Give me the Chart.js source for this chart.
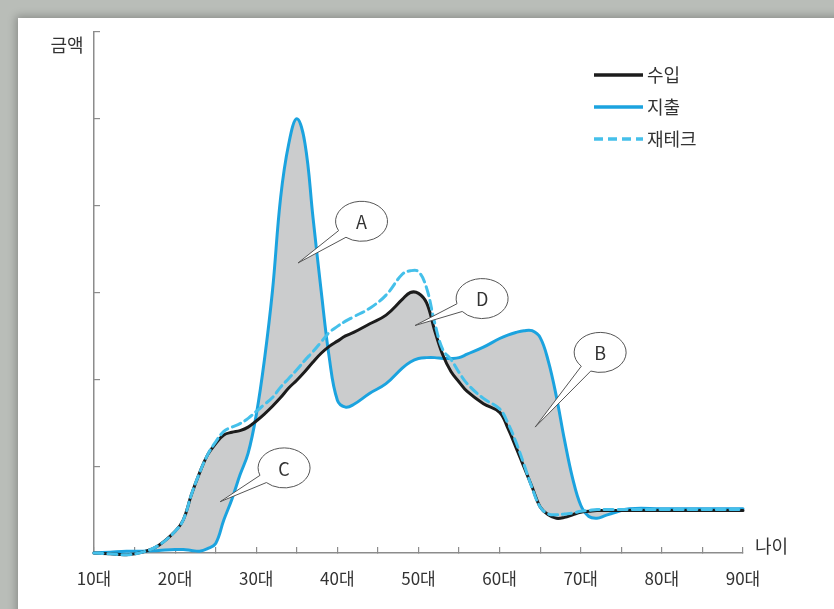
<!DOCTYPE html>
<html>
<head>
<meta charset="utf-8">
<script src="https://cdn.jsdelivr.net/npm/chart.js@4"></script>
<style>
  html, body { margin: 0; padding: 0; }
  body { width: 834px; height: 609px; background: #b9bdb8; position: relative; overflow: hidden; }
  #card { position: absolute; left: 18px; top: 18px; width: 840px; height: 620px; background: #fff;
          box-shadow: -2px -2px 8px rgba(0,0,0,0.25); }
  #chart { position: absolute; left: 0; top: 0; }
</style>
</head>
<body>
<div id="card"></div>
<canvas id="chart" width="834" height="609"></canvas>
<script>
// age (x) and amount (y, one tick = 1)
var ages = [10,12,14,16,18,20,21,22,23,24,25,26,27,28,29,30,31,32,33,34,35,36,37,38,39,40,41,42,44,46,48,49,50,51,52,53,54,55,56,58,60,61,62,63,64,65,66,67,68,69,70,71,72,73,74,76,80,85,90];

var income = [0,-0.01,-0.02,0.01,0.09,0.25,0.38,0.67,0.92,1.13,1.26,1.36,1.39,1.41,1.45,1.52,1.60,1.69,1.79,1.90,1.99,2.09,2.20,2.30,2.38,2.44,2.50,2.54,2.64,2.74,2.92,3.00,2.99,2.88,2.56,2.28,2.09,1.97,1.86,1.72,1.62,1.44,1.22,0.99,0.76,0.53,0.44,0.40,0.41,0.44,0.47,0.48,0.49,0.49,0.49,0.49,0.49,0.49,0.49];

var expense = [0,0.01,0.02,0.02,0.03,0.04,0.04,0.03,0.02,0.05,0.11,0.38,0.62,0.90,1.15,1.59,2.22,3.02,4.09,4.71,5.00,4.72,3.86,3.02,2.25,1.76,1.68,1.71,1.84,1.95,2.13,2.20,2.24,2.25,2.25,2.24,2.24,2.25,2.29,2.37,2.47,2.51,2.54,2.56,2.56,2.48,2.21,1.80,1.30,0.86,0.55,0.42,0.40,0.43,0.46,0.51,0.51,0.51,0.51];

var invest = [0,-0.01,-0.02,0.01,0.09,0.25,0.38,0.67,0.92,1.13,1.28,1.40,1.45,1.49,1.55,1.63,1.71,1.79,1.91,2.01,2.11,2.22,2.32,2.43,2.54,2.61,2.67,2.72,2.82,2.97,3.21,3.25,3.24,3.05,2.65,2.34,2.23,2.08,1.95,1.78,1.66,1.50,1.28,1.02,0.75,0.53,0.45,0.44,0.45,0.46,0.48,0.49,0.50,0.50,0.50,0.50,0.50,0.50,0.50];

var seriesNames = ["수입", "지출", "재테크"];
var xTicks = [10, 20, 30, 40, 50, 60, 70, 80, 90];

// callouts: label, bubble centre (age, amount), pointer tip (age, amount)
var callouts = [
  ["A", 42.98, 3.82, 35.15, 3.34],
  ["B", 72.39, 2.31, 64.38, 1.45],
  ["C", 33.43, 0.98, 25.54, 0.59],
  ["D", 57.84, 2.93, 49.58, 2.62]
];

var BLACK = "#1c1c1c", BLUE = "#1ba3df", LIGHT = "#45c0ea";
var FONT = "'Noto Sans CJK KR', 'Noto Sans', sans-serif";

function pts(vals) {
  return vals.map(function (v, i) { return { x: ages[i], y: v }; });
}

var extras = {
  id: "extras",
  afterDraw: function (chart) {
    var ctx = chart.ctx, xs = chart.scales.x, ys = chart.scales.y;
    ctx.save();
    ctx.fillStyle = "#333";
    ctx.font = "18px " + FONT;
    ctx.textBaseline = "middle";
    ctx.textAlign = "center";
    ctx.fillText("금액", 67, 45);
    ctx.textAlign = "left";
    ctx.fillText("나이", 755, 546);

    // legend
    var items = [[BLACK, []], [BLUE, []], [LIGHT, [9, 5]]];
    items.forEach(function (it, i) {
      var y = 75 + i * 32;
      ctx.strokeStyle = it[0];
      ctx.lineWidth = 3.5;
      ctx.setLineDash(it[1]);
      ctx.beginPath();
      ctx.moveTo(594, y);
      ctx.lineTo(643, y);
      ctx.stroke();
      ctx.setLineDash([]);
      ctx.fillStyle = "#333";
      ctx.fillText(seriesNames[i], 647, y);
    });

    // callout bubbles
    callouts.forEach(function (c) {
      var cx = xs.getPixelForValue(c[1]), cy = ys.getPixelForValue(c[2]);
      var tx = xs.getPixelForValue(c[3]), ty = ys.getPixelForValue(c[4]);
      var rx = 26, ry = 20;
      var t0 = Math.atan2((ty - cy) / ry, (tx - cx) / rx), d = 0.22;
      ctx.beginPath();
      ctx.ellipse(cx, cy, rx, ry, 0, t0 + d, t0 - d + Math.PI * 2);
      ctx.lineTo(tx, ty);
      ctx.closePath();
      ctx.fillStyle = "#fff";
      ctx.fill();
      ctx.strokeStyle = "#555";
      ctx.lineWidth = 1;
      ctx.stroke();
      ctx.fillStyle = "#333";
      ctx.textAlign = "center";
      ctx.font = "18px " + FONT;
      ctx.fillText(c[0], cx, cy + 1);
    });
    ctx.restore();
  }
};

new Chart(document.getElementById("chart"), {
  type: "line",
  data: {
    datasets: [
      {
        label: seriesNames[2],
        data: pts(invest),
        borderColor: LIGHT,
        borderWidth: 3,
        borderDash: [9, 5],
        fill: false
      },
      {
        label: seriesNames[0],
        data: pts(income),
        borderColor: BLACK,
        borderWidth: 3,
        fill: { target: 2 },
        backgroundColor: "#cbcccd"
      },
      {
        label: seriesNames[1],
        data: pts(expense),
        borderColor: BLUE,
        borderWidth: 3,
        fill: false
      }
    ]
  },
  options: {
    responsive: false,
    animation: false,
    events: [],
    clip: false,
    layout: { padding: { left: 94, right: 91, top: 32, bottom: 16 } },
    elements: {
      point: { radius: 0 },
      line: { tension: 0.4, borderJoinStyle: "round", borderCapStyle: "round" }
    },
    plugins: {
      legend: { display: false },
      tooltip: { enabled: false },
      filler: { drawTime: "beforeDatasetsDraw" }
    },
    scales: {
      x: {
        type: "linear",
        min: 10,
        max: 90,
        afterFit: function (s) { s.height = 40; },
        border: { color: "#8c8c8c", width: 1.5 },
        grid: { drawOnChartArea: false, tickLength: -6, color: "#8c8c8c", lineWidth: 1.2 },
        ticks: {
          stepSize: 5,
          padding: 21,
          color: "#333",
          font: { family: FONT, size: 17 },
          maxRotation: 0,
          autoSkip: false,
          callback: function (v) { return xTicks.indexOf(v) >= 0 ? v + "대" : ""; }
        }
      },
      y: {
        min: 0,
        max: 6,
        afterFit: function (s) { s.width = 0; },
        border: { color: "#8c8c8c", width: 1.5 },
        grid: { drawOnChartArea: false, tickLength: -6, color: "#8c8c8c", lineWidth: 1.2 },
        ticks: { stepSize: 1, display: false }
      }
    }
  },
  plugins: [extras]
});
</script>
</body>
</html>
